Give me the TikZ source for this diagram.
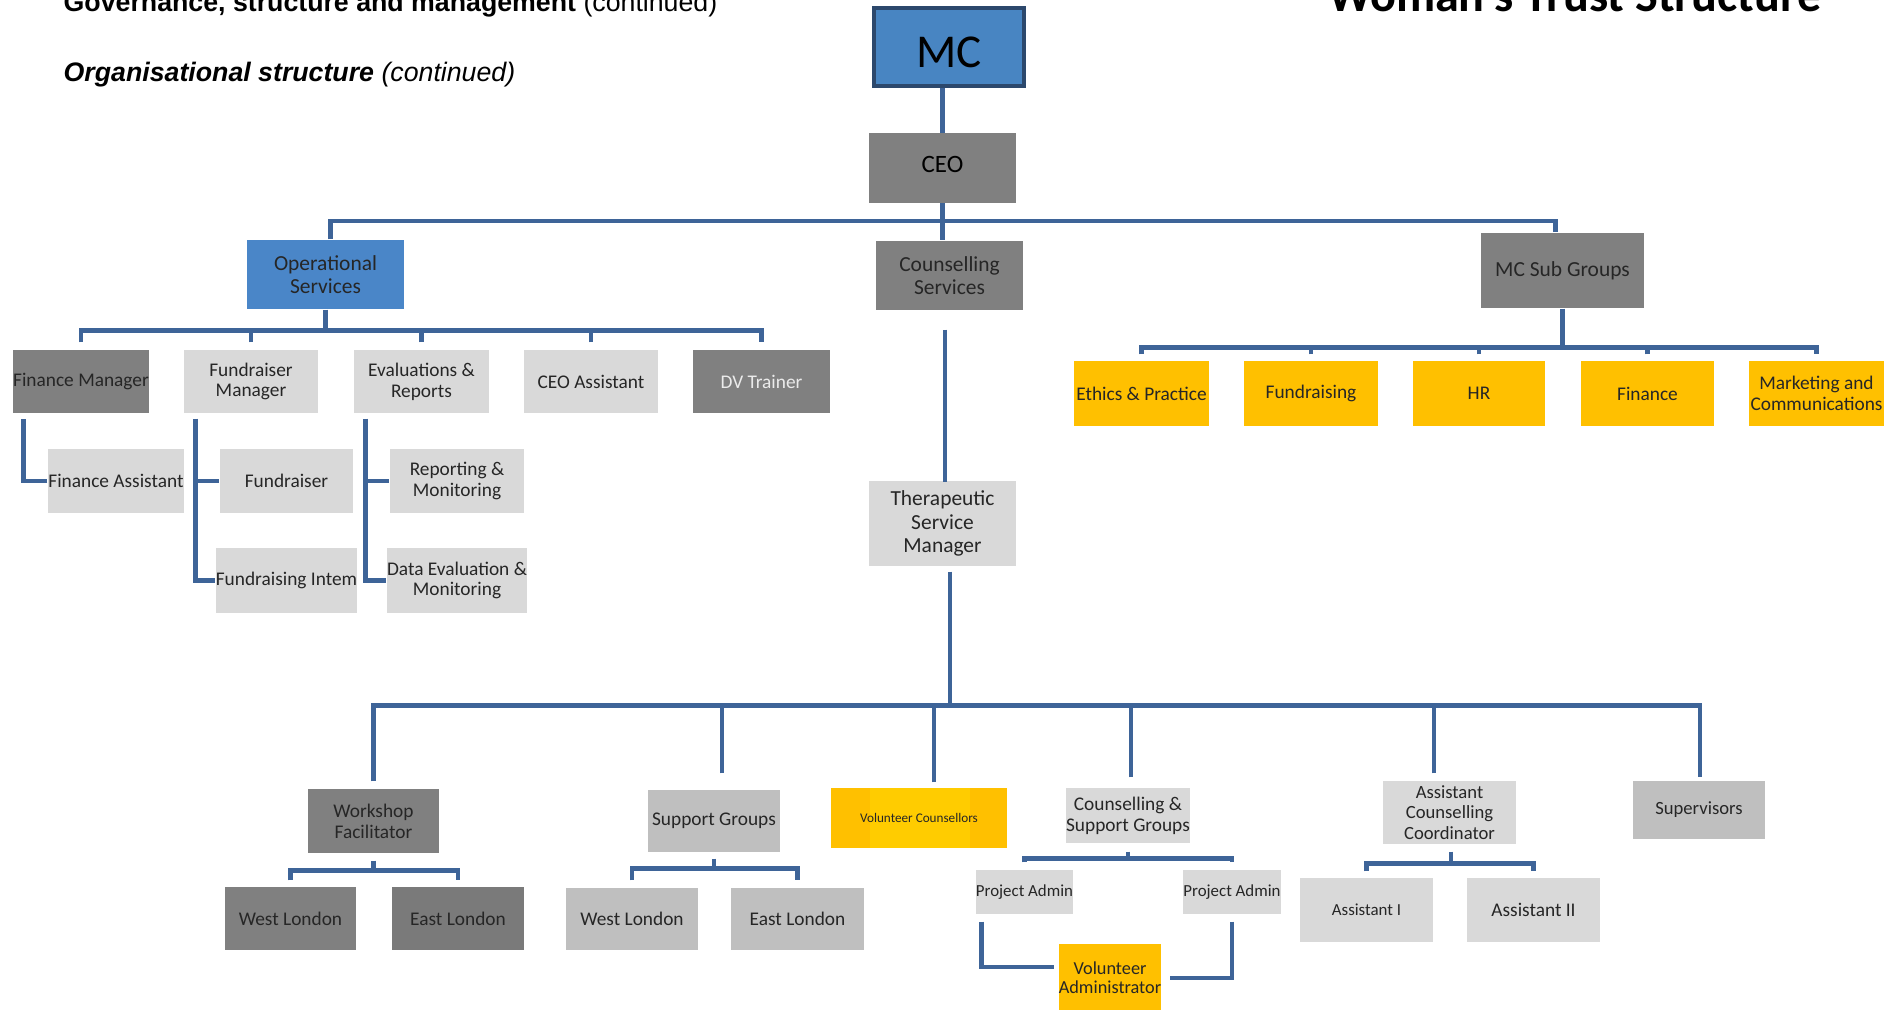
\documentclass[tikz,border=0pt]{standalone}
\usepackage{fontspec}
\setmainfont{Carlito}
\newfontfamily\arialfont{Liberation Sans}
\usetikzlibrary{calc}

\definecolor{connblue}{RGB}{62,100,152}
\definecolor{mcblue}{RGB}{72,133,194}
\definecolor{mcedge}{RGB}{44,72,108}
\definecolor{opblue}{RGB}{74,134,200}
\definecolor{dgray}{RGB}{128,128,128}
\definecolor{mgray}{RGB}{191,191,191}
\definecolor{lgray}{RGB}{217,217,217}
\definecolor{gold}{RGB}{255,192,0}
\definecolor{goldlight}{RGB}{255,204,0}
\definecolor{txt}{RGB}{38,38,38}

\begin{document}
\begin{tikzpicture}[x=0.01cm,y=-0.01cm,
    box/.style={rectangle,inner sep=0pt,align=center,text=txt,font=\fontsize{5.5}{5.9}\selectfont},
    wh/.style 2 args={minimum width=#1cm,minimum height=#2cm},
    dark/.style={box,fill=dgray},
    mid/.style={box,fill=mgray},
    light/.style={box,fill=lgray},
    yel/.style={box,fill=gold},
    big/.style={font=\fontsize{6.1}{6.6}\selectfont},
    head/.style={anchor=base west,inner sep=0pt,font=\arialfont\fontsize{7.6}{8}\selectfont},
    conn/.style={draw=connblue,line width=1.3pt}]

    \useasboundingbox (0,0) rectangle (1897,1010);

    % Kopfzeilen
    \node[head] (gov) at (63,12) {\textbf{Governance, structure and management} (continued)};
    \node[head] (org) at (63,82) {\textbf{\textit{Organisational structure}} \textit{(continued)}};
    \node[anchor=base east,inner sep=0pt,font=\bfseries\fontsize{13.7}{15}\selectfont] (title) at (1822,12)
        {Woman's Trust Structure};

    % Spitze
    \node[box,wh={1.50}{0.77},fill=mcblue,draw=mcedge,line width=0.04cm,text=black,
        text height=8.7pt+0.1cm,text depth=0pt,font=\fontsize{13.4}{14}\selectfont] (mc) at (949,47) {MC};
    \node[dark,wh={1.47}{0.69},text=black,text height=4.6pt,text depth=0.08cm,
        font=\fontsize{7.1}{8}\selectfont] (ceo) at (942.5,168) {CEO};

    % Ebene 2
    \node[box,big,wh={1.57}{0.69},fill=opblue] (ops) at (325.5,274.5) {Operational\\Services};
    \node[dark,big,wh={1.47}{0.69}] (cs) at (949.5,275.5) {Counselling\\Services};
    \node[dark,big,wh={1.63}{0.75}] (mcsg) at (1562.5,270.5) {MC Sub Groups};

    % Operational Services
    \node[dark,wh={1.36}{0.63}] (fm) at (81,381.5) {Finance Manager};
    \node[light,wh={1.34}{0.63}] (frm) at (251,381.5) {Fundraiser\\Manager};
    \node[light,wh={1.35}{0.63}] (er) at (421.5,381.5) {Evaluations \&\\Reports};
    \node[light,wh={1.34}{0.63}] (ceoa) at (591,381.5) {CEO Assistant};
    \node[dark,wh={1.37}{0.63},text=white!92!black] (dv) at (761.5,381.5) {DV Trainer};

    \node[light,wh={1.36}{0.64}] (fa) at (116,481) {Finance Assistant};
    \node[light,wh={1.33}{0.64}] (fr) at (286.5,481) {Fundraiser};
    \node[light,wh={1.33}{0.65}] (fi) at (286.5,580.5) {Fundraising Intem};
    \node[light,wh={1.34}{0.64}] (rm) at (457,481) {Reporting \&\\Monitoring};
    \node[light,wh={1.34}{0.65}] (dem) at (457,580.5) {Data Evaluation \&\\Monitoring};

    % MC Sub Groups
    \node[yel,wh={1.35}{0.65}] (ep) at (1141.5,393.5) {Ethics \& Practice};
    \node[yel,wh={1.34}{0.65}] (frg) at (1311,393.5) {Fundraising};
    \node[yel,wh={1.32}{0.65}] (hr) at (1479,393.5) {HR};
    \node[yel,wh={1.33}{0.65}] (fin) at (1647.5,393.5) {Finance};
    \node[yel,wh={1.35}{0.65}] (mkt) at (1816.5,393.5) {Marketing and\\Communications};

    % Counselling Services
    \node[light,big,wh={1.47}{0.85}] (tsm) at (942.5,523.5) {Therapeutic\\Service\\Manager};

    \node[dark,wh={1.31}{0.64}] (wf) at (373.5,821) {Workshop\\Facilitator};
    \node[mid,wh={1.32}{0.62}] (sg) at (714,821) {Support Groups};
    \node[yel,wh={1.76}{0.60},font=\fontsize{3.75}{4.2}\selectfont,
        path picture={\fill[goldlight] ($(path picture bounding box.north west)+(39,0)$)
            rectangle ($(path picture bounding box.south east)+(-37,0)$);}] (vc) at (919,818)
        {Volunteer Counsellors};
    \node[light,wh={1.20}{0.55}] (csg) at (1128,815.5) {Counselling \&\\Support Groups};
    \node[light,wh={1.33}{0.63},font=\fontsize{5.3}{5.85}\selectfont] (acc) at (1449.5,812.5)
        {Assistant\\Counselling\\Coordinator};
    \node[mid,wh={1.32}{0.58},font=\fontsize{5.3}{5.9}\selectfont] (sup) at (1699,810) {Supervisors};

    \node[dark,wh={1.31}{0.63}] (wl1) at (290.5,918.5) {West London};
    \node[dark,wh={1.32}{0.63},fill=dgray!95!black] (el1) at (458,918.5) {East London};
    \node[mid,wh={1.32}{0.62}] (wl2) at (632,919) {West London};
    \node[mid,wh={1.33}{0.62}] (el2) at (797.5,919) {East London};
    \node[light,wh={0.93}{0.44},font=\fontsize{4.8}{5.2}\selectfont] (pa1) at (1024.5,892) {Project Admin};
    \node[light,wh={0.94}{0.44},font=\fontsize{4.8}{5.2}\selectfont] (pa2) at (1232,892) {Project Admin};
    \node[yel,wh={0.97}{0.68},font=\fontsize{5.2}{5.5}\selectfont] (va) at (1110,978) {Volunteer\\Administrator};
    \node[light,wh={1.33}{0.64},font=\fontsize{4.8}{5.2}\selectfont] (ai) at (1366.5,910) {Assistant I};
    \node[light,wh={1.33}{0.64}] (aii) at (1533.5,910) {Assistant II};

    % Linien oben
    \draw[conn] (ceo.north |- mc.south) -- (ceo.north);
    \draw[conn] (ceo.south) -- (ceo.south |- cs.north);
    \coordinate (bar1) at (942,221);
    \draw[conn] ($(ops.north)+(5,0)$) |- (bar1) -| ($(mcsg.north)+(-7,0)$);

    % Linien Operational Services
    \draw[conn] (ops.south) -- ++(0,21) coordinate (bar2);
    \draw[conn] ($(fm.north)+(0,-7)$) |- (bar2) -| ($(dv.north)+(0,-7)$);
    \foreach \n in {frm,er,ceoa}
        \draw[conn] ($(\n.north)+(0,-7)$) -- (\n.north |- bar2);
    \draw[conn] (fa.west) -| ($(fm.south west)+(11,5)$);
    \coordinate (frmv) at ($(frm.south west)+(12,5)$);
    \draw[conn] (frmv) |- (fi.west);
    \draw[conn] (frmv |- fr.west) -- (fr.west);
    \coordinate (erv) at ($(er.south west)+(12,5)$);
    \draw[conn] (erv) |- (dem.west);
    \draw[conn] (erv |- rm.west) -- (rm.west);

    % Linien MC Sub Groups
    \draw[conn] (mcsg.south) -- ++(0,39) coordinate (bar5);
    \draw[conn] ($(ep.north)+(0,-6)$) |- (bar5) -| ($(mkt.north)+(0,-6)$);
    \foreach \n in {frg,hr,fin}
        \draw[conn] ($(\n.north)+(0,-6)$) -- (\n.north |- bar5);

    % Linien Counselling Services
    \draw[conn] (tsm.north |- cs.south) ++(2.5,19) -- ++(0,152);
    \draw[conn] (tsm.south) ++(7.5,5) -- ++(0,134) coordinate (bar3);
    \draw[conn] ($(wf.north)+(0,-7)$) |- (bar3) -| ($(sup.north)+(1,-3)$);
    \draw[conn] ($(sg.north)+(8,-16)$) |- (bar3);
    \draw[conn] ($(vc.north)+(15,-5)$) |- (bar3);
    \draw[conn] ($(csg.north)+(3,-10)$) |- (bar3);
    \draw[conn] ($(acc.north)+(-15.5,-7)$) |- (bar3);

    % Gabeln unten
    \draw[conn] ($(wf.south)+(0,7)$) -- ++(0,10) coordinate (b4);
    \draw[conn] ($(wl1.north)+(0,-6)$) |- (b4) -| ($(el1.north)+(0,-6)$);
    \draw[conn] ($(sg.south)+(0,6)$) -- ++(0,10) coordinate (b6);
    \draw[conn] ($(wl2.north)+(0,-7)$) |- (b6) -| ($(el2.north)+(0,-7)$);
    \draw[conn] ($(csg.south)+(0,8)$) -- ++(0,7) coordinate (b7);
    \draw[conn] ($(pa1.north)+(0,-7)$) |- (b7) -| ($(pa2.north)+(0,-7)$);
    \draw[conn] ($(acc.south)+(1.5,7)$) -- ++(0,12) coordinate (b8);
    \draw[conn] ($(ai.north)+(0,-6)$) |- (b8) -| ($(aii.north)+(0,-6)$);
    \draw[conn] ($(pa1.south west)+(6,7)$) |- ($(va.west)+(-4,-11)$);
    \draw[conn] ($(pa2.south)+(0,7)$) |- ($(va.east)+(8,0)$);
\end{tikzpicture}
\end{document}
